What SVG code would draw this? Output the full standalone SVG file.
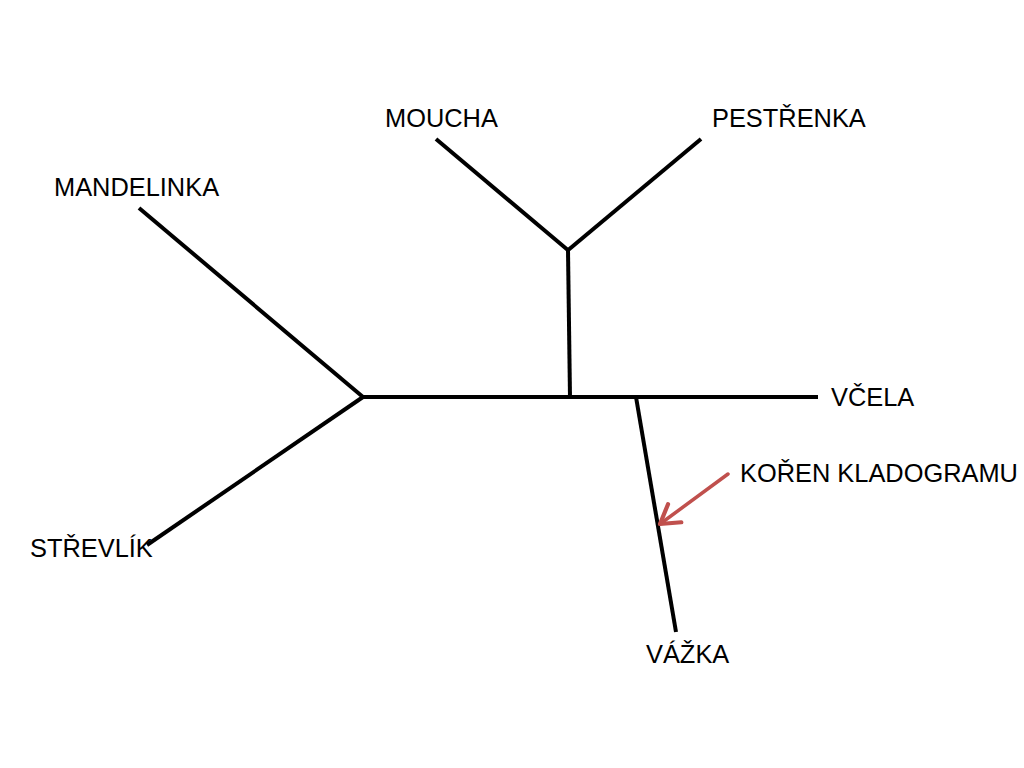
<svg xmlns="http://www.w3.org/2000/svg" width="1024" height="768" viewBox="0 0 1024 768">
<style>
text{font-family:"Liberation Sans",Arial,sans-serif;font-size:25.4px;fill:#000}
.b{stroke:#000;stroke-width:4;fill:none;stroke-linecap:butt}
.r{stroke:#c0504d;stroke-width:3.5;fill:none;stroke-linecap:round;stroke-linejoin:round}
</style>
<defs>
<marker id="ah" markerWidth="8" markerHeight="8" refX="6" refY="4" orient="auto" markerUnits="strokeWidth" viewBox="0 0 8 8">
<path d="M0.8,0.8 L6,4 L0.8,7.2" fill="none" stroke="#c0504d" stroke-width="1.2" stroke-linecap="round" stroke-linejoin="round"/>
</marker>
</defs>
<rect width="1024" height="768" fill="#fff"/>
<g id="connectors">
<line class="b" x1="139" y1="208" x2="363" y2="397"/>
<line class="b" x1="147" y1="545" x2="363" y2="397"/>
<line class="b" x1="361" y1="397" x2="818" y2="397"/>
<line class="b" x1="568" y1="250" x2="570" y2="397"/>
<line class="b" x1="436" y1="139" x2="569" y2="251"/>
<line class="b" x1="701" y1="139" x2="567" y2="251"/>
<line class="b" x1="636" y1="397" x2="676" y2="632"/>
<line class="r" x1="728" y1="474" x2="660" y2="524" marker-end="url(#ah)"/>
</g>
<g id="moucha"><text x="385" y="127">MOUCHA</text></g>
<g id="pestrenka"><text x="712" y="127">PESTŘENKA</text></g>
<g id="mandelinka"><text x="54" y="196">MANDELINKA</text></g>
<g id="vcela"><text x="831" y="406">VČELA</text></g>
<g id="koren"><text x="740" y="482">KOŘEN KLADOGRAMU</text></g>
<g id="strevlik"><text x="30" y="557">STŘEVLÍK</text></g>
<g id="vazka"><text x="646" y="663">VÁŽKA</text></g>
</svg>
